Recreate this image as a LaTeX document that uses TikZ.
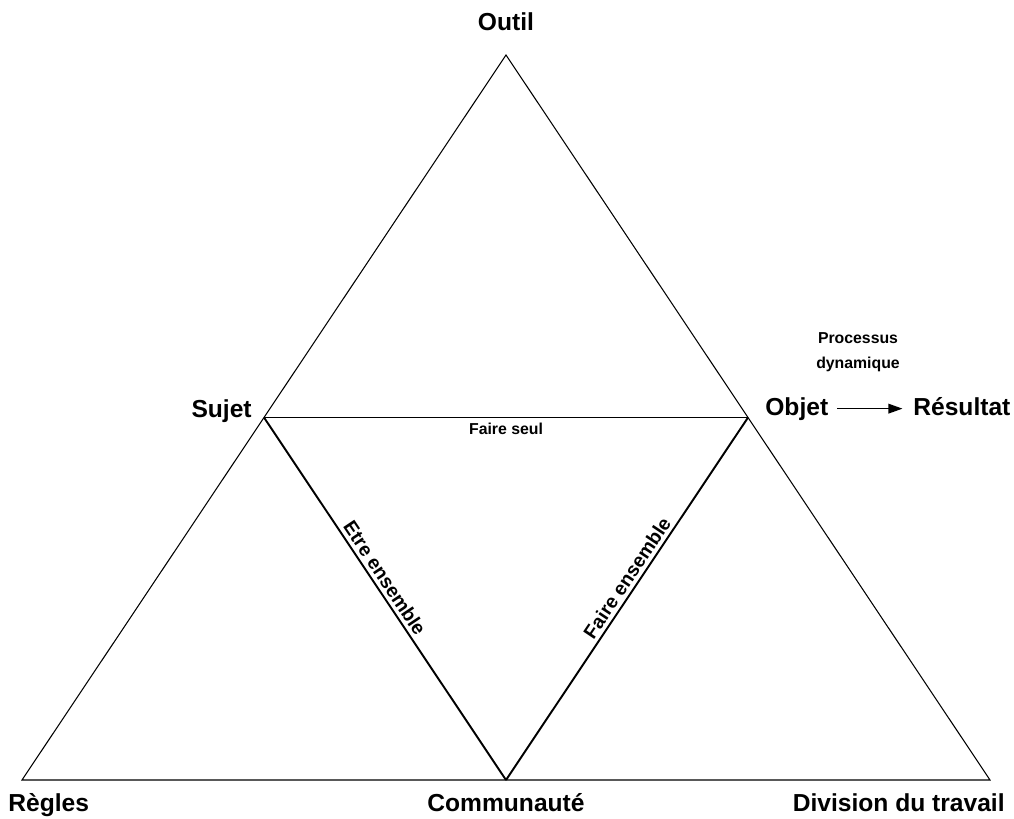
\documentclass[tikz,border=0pt]{standalone}
\usepackage{fontspec}
\setmainfont{Liberation Sans}
\usetikzlibrary{arrows.meta,calc}
\tikzset{
  pole/.style={inner sep=0pt, font=\bfseries\fontsize{14}{16}\selectfont},
  sidelabel/.style={inner sep=2pt, font=\bfseries\fontsize{11}{13}\selectfont},
  outer/.style={line width=0.6pt},
  inner/.style={line width=1.1pt}
}
\begin{document}
\begin{tikzpicture}[x=0.02cm, y=-0.02cm]
  \useasboundingbox (0,0) rectangle (1014,818);

  % Corners of the big triangle
  \coordinate (top) at (506,55);
  \coordinate (left) at (22,780);
  \coordinate (right) at (990,780);

  % Corners of the inner triangle
  \coordinate (mid-s) at ($(top)!0.5!(left)$);
  \coordinate (mid-o) at ($(top)!0.5!(right)$);
  \coordinate (mid-c) at ($(left)!0.5!(right)$);

  % Big triangle
  \draw[outer] (top) -- (left) -- (right) -- cycle;

  % Inner triangle
  \draw[line width=0.8pt] (mid-s) -- (mid-o)
    node[midway, below, inner sep=3pt, font=\bfseries\fontsize{9}{11}\selectfont] {Faire seul};
  \draw[inner] (mid-s) -- (mid-c)
    node[pos=0.46, sloped, above, sidelabel] {Etre ensemble};
  \draw[inner] (mid-c) -- (mid-o)
    node[pos=0.54, sloped, above, sidelabel] {Faire ensemble};

  % Poles
  \node[pole, anchor=base] (outil) at (506,31) {Outil};
  \node[pole, anchor=base east] (sujet) at (252,417) {Sujet};
  \node[pole, anchor=base west] (objet) at (765,415) {Objet};
  \node[pole, anchor=base west] (resultat) at (913,415) {Résultat};
  \node[pole, anchor=base west] (regles) at (8,811) {Règles};
  \node[pole, anchor=base] (communaute) at (506,811) {Communauté};
  \node[pole, anchor=base east] (division) at (1005,811) {Division du travail};

  % Objet leads to the result
  \draw[line width=0.8pt, -{Triangle[length=8pt, width=5.5pt]}, shorten <=5pt, shorten >=6pt]
    (objet.east) -- (objet.east -| resultat.west);
  \node[align=center, font=\bfseries\fontsize{9}{14}\selectfont] (processus) at (858,352) {Processus\\dynamique};

\end{tikzpicture}
\end{document}
